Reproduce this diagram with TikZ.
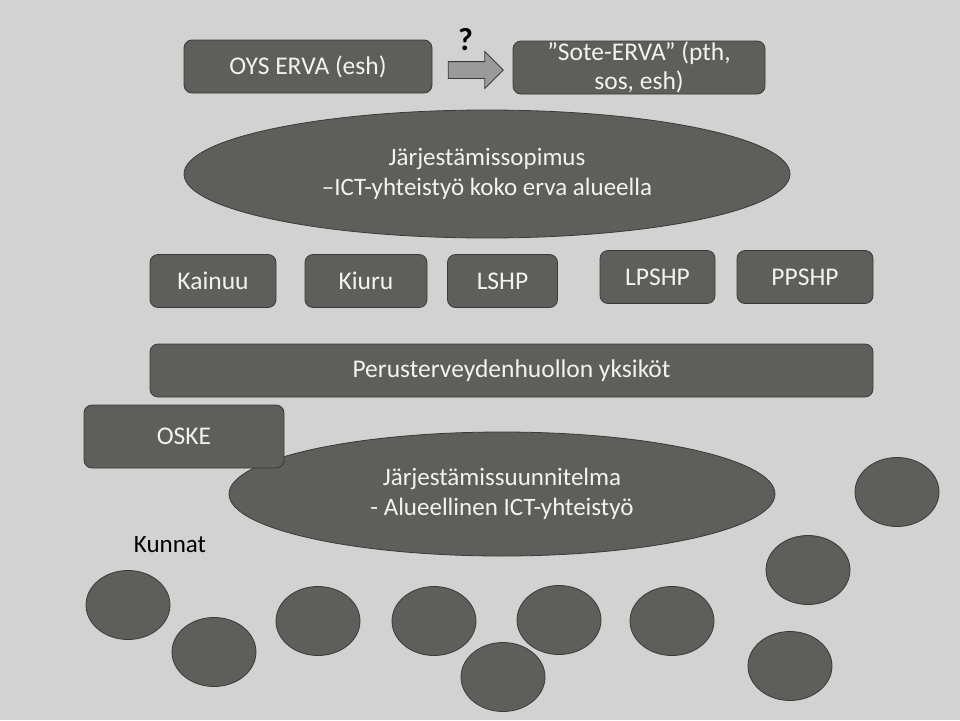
\documentclass[tikz,border=0pt]{standalone}
\usepackage{fontspec}
\setmainfont{Carlito}
\usepackage{tikz}
\usetikzlibrary{positioning, shapes.geometric, shapes.arrows}
\definecolor{boxgray}{HTML}{5E5E5A}
\definecolor{edgegray}{HTML}{3A3A38}
\definecolor{bggray}{HTML}{D2D2D2}
\definecolor{arrowgray}{HTML}{9A9A9A}
\definecolor{txtwhite}{HTML}{F2F2F2}

\begin{document}
\begin{tikzpicture}[x=1pt,y=-1pt,
        box/.style={draw=edgegray,fill=boxgray,thick,rounded corners=8pt,text=txtwhite,
            font=\fontsize{25.5}{29}\selectfont,inner sep=0pt,align=center},
        oval/.style={ellipse,draw=edgegray,fill=boxgray,thick,text=txtwhite,
            font=\fontsize{25}{30}\selectfont,inner sep=0pt,align=center},
        kunta/.style={ellipse,draw=edgegray,fill=boxgray,thick,minimum width=84pt,minimum height=69pt}]

        \fill[bggray] (0,0) rectangle (960,720);
        \useasboundingbox (0,0) rectangle (960,720);

        % ERVA
        \node[box,minimum width=248pt,minimum height=53pt] (oys) at (308,66.5) {OYS ERVA (esh)};
        \node[box,minimum width=252pt,minimum height=53pt] (sote) at (639,67.5) {”Sote-ERVA” (pth,\\sos, esh)};
        \node[single arrow,draw=edgegray,fill=arrowgray,thick,minimum height=55pt,
            inner xsep=0pt,inner ysep=8pt,single arrow head extend=10pt] (siirto) at (471.5,70) {};
        \node[font=\fontsize{32}{32}\bfseries,inner sep=0pt] (kysymys) [above=10pt of siirto, xshift=-6pt] {?};

        \node[oval,minimum width=606pt,minimum height=128pt] (sopimus) at (487,174)
            {Järjestämissopimus\\–ICT-yhteistyö koko erva alueella};

        % sairaanhoitopiirit
        \node[box,minimum width=126pt,minimum height=53pt] (kainuu) at (213,281) {Kainuu};
        \node[box,minimum width=122pt,minimum height=53pt] (kiuru) at (366,281) {Kiuru};
        \node[box,minimum width=110pt,minimum height=53pt] (lshp) at (502.5,281) {LSHP};
        \node[box,minimum width=115pt,minimum height=53pt] (lpshp) at (657.5,277) {LPSHP};
        \node[box,minimum width=136pt,minimum height=53pt] (ppshp) at (805,277) {PPSHP};

        \node[box,minimum width=723pt,minimum height=53pt] (pth) at (511.5,370.5) {Perusterveydenhuollon yksiköt};

        \node[oval,minimum width=546pt,minimum height=124pt] (suunnitelma) at (502,494)
            {Järjestämissuunnitelma\\- Alueellinen ICT-yhteistyö};
        \node[box,minimum width=200pt,minimum height=63pt] (oske) at (184,436.5) {OSKE};

        % kunnat
        \node[font=\fontsize{25}{25}\selectfont] (kunnat) at (170,545) {Kunnat};
        \foreach \name/\x/\y in {k1/128/605, k2/214/652, k3/318/621, k4/434/621, k5/503/677,
                k6/559/620, k7/672/621, k8/808/570, k9/790/666, k10/897/492}
            \node[kunta] (\name) at (\x,\y) {};
    \end{tikzpicture}
\end{document}
